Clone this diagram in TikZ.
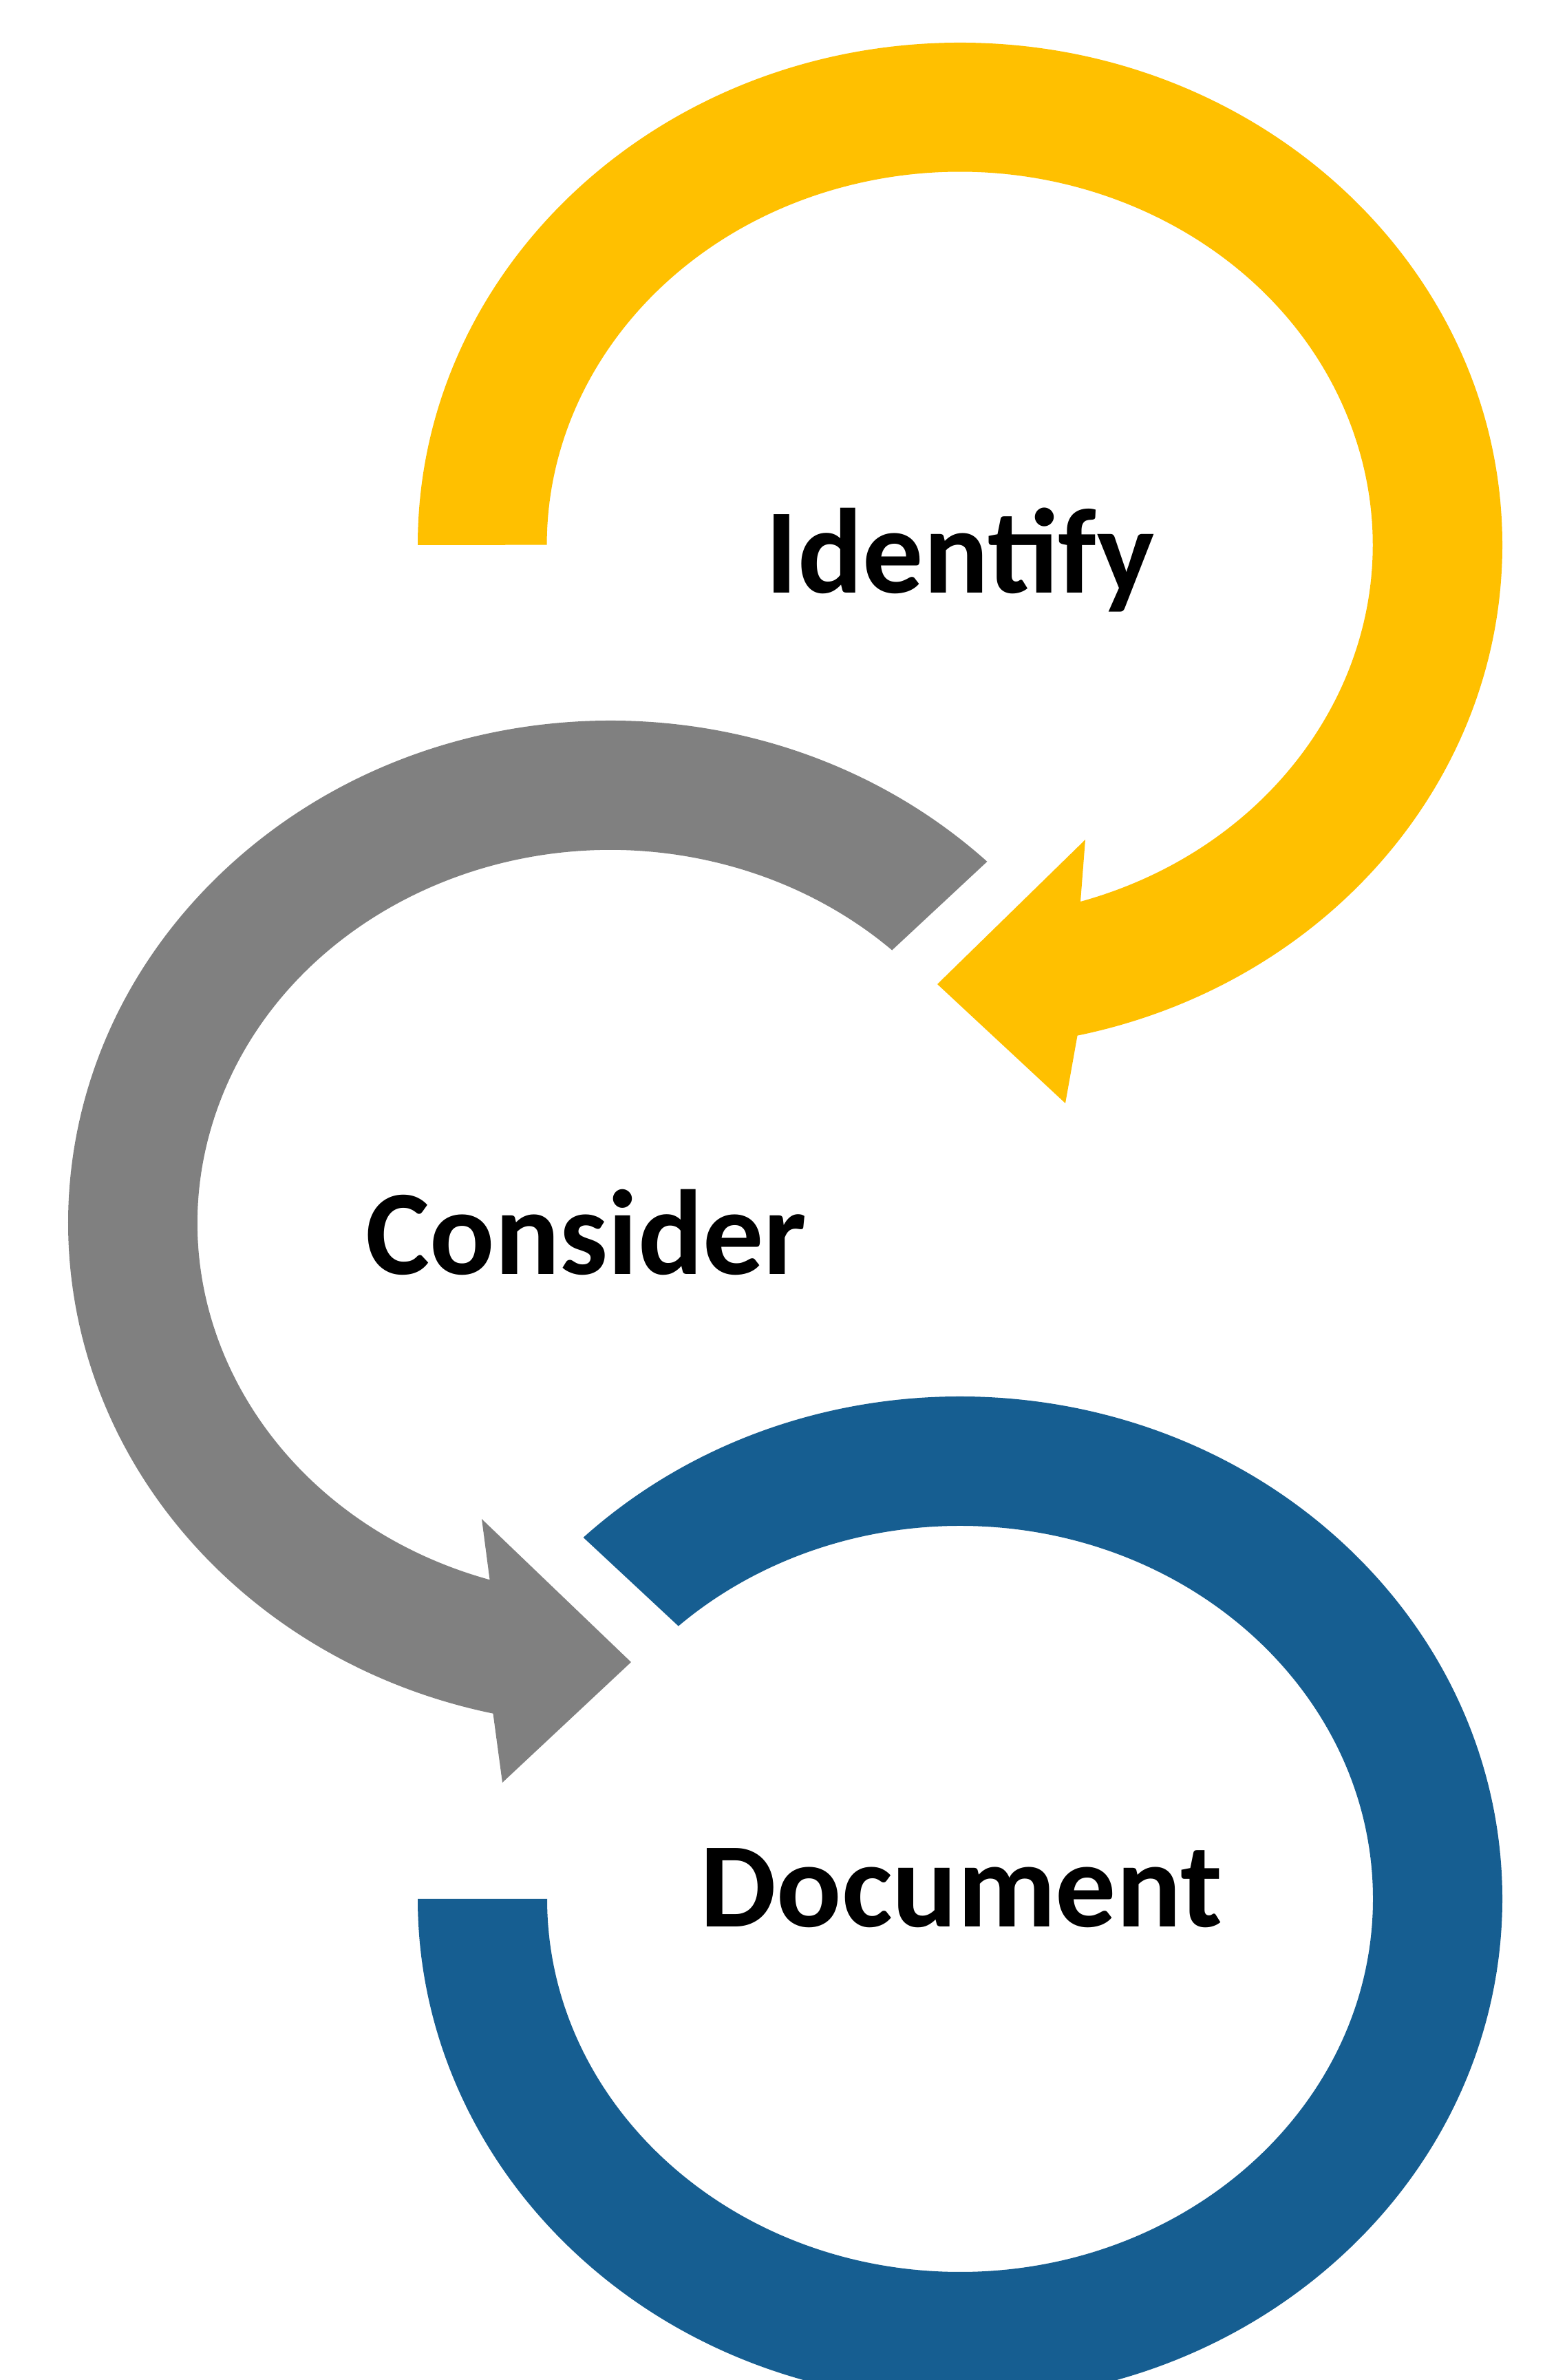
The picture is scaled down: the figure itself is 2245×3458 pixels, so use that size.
\documentclass[tikz,border=0pt]{standalone}
\usepackage{fontspec}
\setmainfont{Carlito}
\usetikzlibrary{calc}
\definecolor{cgold}{RGB}{255,192,0}
\definecolor{cgray}{RGB}{128,128,128}
\definecolor{cblue}{RGB}{22,94,145}
\begin{document}
\begin{tikzpicture}[x=0.1mm,y=0.1mm,
  steptext/.style={font=\bfseries\fontsize{50}{60}\selectfont, anchor=base, inner sep=0pt, text=black}]
\useasboundingbox (0,0) rectangle (2245,3458);
\clip (0,0) rectangle (2245,3458);

% Yellow circular arrow (Identify), centre (1395,2666)
\coordinate (yc) at (1395,2666);
\fill[cgold] (607,2666)
  arc[start angle=180, end angle=-77.5, x radius=788, y radius=730]
  -- (1548,1855) -- (1362,2028) -- (1577,2238) -- (1570,2148)
  arc[start angle=-73, end angle=180, x radius=600, y radius=542]
  -- cycle;

% Gray circular arrow (Consider), centre (887,1681)
\coordinate (gc) at (887,1681);
\fill[cgray] ($(gc)+(46:788 and 730)$)
  arc[start angle=46, end angle=257.5, x radius=788, y radius=730]
  -- (730,868) -- (917,1043) -- (700,1251) -- ($(gc)+(253:600 and 542)$)
  arc[start angle=253, end angle=47, x radius=600, y radius=542]
  -- cycle;

% Blue ring (Document), centre (1395,699)
\coordinate (bc) at (1395,699);
\fill[cblue] ($(bc)+(134:788 and 730)$)
  arc[start angle=134, end angle=-180, x radius=788, y radius=730]
  -- (795,699)
  arc[start angle=-180, end angle=133, x radius=600, y radius=542]
  -- cycle;

\node[steptext] (identify) at (1395,2596) {Identify};
\node[steptext] (consider) at (852,1606) {Consider};
\node[steptext] (document) at (1397,658) {Document};
\end{tikzpicture}
\end{document}
